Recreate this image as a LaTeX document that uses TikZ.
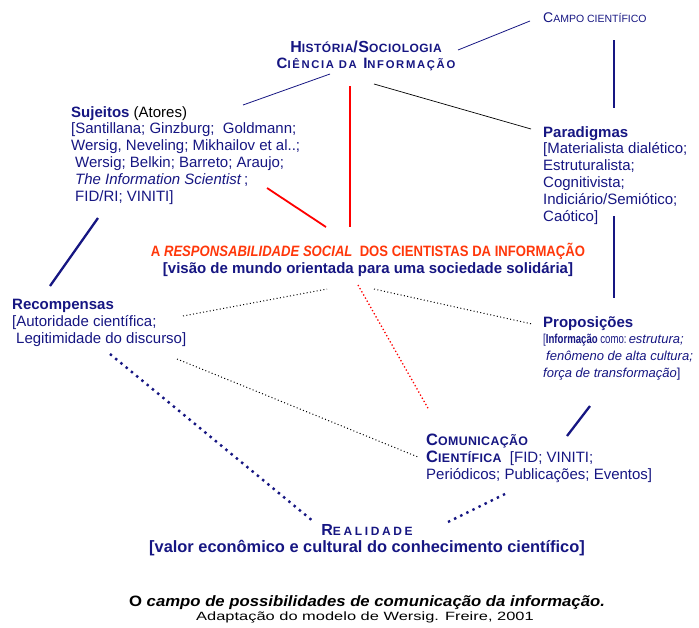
\documentclass[tikz,border=0pt]{standalone}
\usepackage{fontspec}
\setmainfont{Liberation Sans}
\usepackage{graphicx}
\usepackage{xcolor}
\usetikzlibrary{positioning}
\definecolor{navy}{RGB}{22,22,130}
\definecolor{title-red}{RGB}{255,55,10}
\newcommand{\smallcap}[2]{#1\scalebox{0.75}{#2}}
\tikzset{
    title-box/.style = {inner sep=0pt, anchor=base, text=navy, font=\bfseries\fontsize{15}{17}\selectfont},
    concept-box/.style = {inner sep=0pt, anchor=north west, align=left, text=navy, font=\fontsize{15}{16.8}\selectfont},
    thin-link/.style = {draw=navy, line width=0.8pt},
    heavy-link/.style = {draw=navy, line width=2.3pt},
    red-link/.style = {draw=red, line width=1.3pt},
    dot-link/.style = {draw=black, line width=1pt, dash pattern=on 1pt off 2.4pt},
    red-dot-link/.style = {draw=red, line width=1.3pt, dash pattern=on 1.3pt off 2.3pt},
    heavy-dot-link/.style = {draw=navy, line width=2.4pt, dash pattern=on 2.4pt off 4.4pt},
}

\begin{document}
\begin{tikzpicture}[x=1pt, y=-1pt]
\useasboundingbox (0,0) rectangle (699,627);

% top: campo / historia
\node[title-box, anchor=base west, font=\fontsize{14}{16}\selectfont] (campo) at (543,22) {\smallcap{C}{AMPO CIENTÍFICO}};
\node[title-box, font=\bfseries\fontsize{16}{18}\selectfont] (hist) at (366,52) {\addfontfeatures{LetterSpace=4}\smallcap{H}{ISTÓRIA}/\smallcap{S}{OCIOLOGIA}};
\node[title-box] (ciencia) at (366,68) {\addfontfeatures{LetterSpace=15}\smallcap{C}{IÊNCIA DA} \smallcap{I}{NFORMAÇÃO}};

% concept blocks
\node[concept-box] (suj) at (71,106) {\textbf{Sujeitos} {\color{black}(Atores)}\\
{[}Santillana; Ginzburg;\ \ Goldmann;\\
Wersig, Neveling; Mikhailov et al..;\\
\hspace{4pt}Wersig; Belkin; Barreto; Araujo;\\
\hspace{4pt}\textit{The Information Scientist}\,;\\
\hspace{4pt}FID/RI; VINITI]};
\node[concept-box] (para) at (543,126) {\textbf{Paradigmas}\\
{[}Materialista dialético;\\
Estruturalista;\\
Cognitivista;\\
Indiciário/Semiótico;\\
Caótico]};
\node[concept-box] (recomp) at (12,299) {\textbf{Recompensas}\\
{[}Autoridade científica;\\
\hspace{4pt}Legitimidade do discurso]};
\node[concept-box] (prop) at (543,316) {\textbf{Proposições}\\
{\fontsize{13}{17}\selectfont\scalebox{0.74}[1]{[\textbf{Informação} como:}\,\textit{estrutura;}}\\
{\fontsize{13}{17}\selectfont\hspace{3pt}\textit{fenômeno de alta cultura;}}\\
{\fontsize{13}{17}\selectfont\textit{força de transformação}]}};
\node[concept-box] (comun) at (426,434) {\textbf{\fontsize{16.5}{17}\selectfont\addfontfeatures{LetterSpace=3}\smallcap{C}{OMUNICAÇÃO}}\\
\textbf{\fontsize{16.5}{17}\selectfont\addfontfeatures{LetterSpace=3}\smallcap{C}{IENTÍFICA}}\ \ [FID; VINITI;\\
Periódicos; Publicações; Eventos]};

% centre
\node[title-box, text=title-red] (resp) at (368,256) {\scalebox{0.873}[1]{A \textit{RESPONSABILIDADE SOCIAL}\ \ DOS CIENTISTAS DA INFORMAÇÃO}};
\node[title-box] (visao) at (368,273) {[visão de mundo orientada para uma sociedade solidária]};

% bottom
\node[title-box, font=\bfseries\fontsize{16}{18}\selectfont] (real) at (367,535) {\addfontfeatures{LetterSpace=22}\smallcap{R}{EALIDADE}};
\node[title-box, font=\bfseries\fontsize{16.4}{18}\selectfont] (valor) at (367,552) {[valor econômico e cultural do conhecimento científico]};
\node[title-box, text=black] (cap1) at (367,606) {\scalebox{1.115}[1]{O \textit{campo de possibilidades de comunicação da informação.}}};
\node[title-box, text=black, font=\fontsize{12}{14}\selectfont] (cap2) at (365,620) {\scalebox{1.37}[1]{Adaptação do modelo de Wersig. Freire, 2001}};

% connectors
\draw[thin-link] ([shift={(92,-2)}]hist.base) -- ([shift={(-13,-1)}]campo.base west);
\draw[heavy-link] ([shift={(71,18)}]campo.base west) -- ([shift={(71,-18)}]para.north west);
\draw[thin-link] ([shift={(172,-1)}]suj.north west) -- ([shift={(-36,22)}]hist.base);
\draw[red-link] ([shift={(-16,18)}]ciencia.base) -- ([shift={(-18,-29)}]resp.base);
\draw[black, line width=0.7pt] ([shift={(8,16)}]ciencia.base) -- ([shift={(-12,3)}]para.north west);
\draw[red-link, line width=1.8pt] ([shift={(196,82)}]suj.north west) -- ([shift={(-42,-29)}]resp.base);
\draw[heavy-link] ([shift={(27,112)}]suj.north west) -- ([shift={(38,-13)}]recomp.north west);
\draw[heavy-link] ([shift={(71,90)}]para.north west) -- ([shift={(71,-18)}]prop.north west);
\draw[dot-link] ([shift={(171,17)}]recomp.north west) -- ([shift={(-41,16)}]visao.base);
\draw[dot-link] ([shift={(6,16)}]visao.base) -- ([shift={(-11,8)}]prop.north west);
\draw[red-dot-link] ([shift={(-10,12)}]visao.base) -- ([shift={(3,-24)}]comun.north west);
\draw[dot-link] ([shift={(165,60)}]recomp.north west) -- ([shift={(-8,23)}]comun.north west);
\draw[heavy-link] ([shift={(47,90)}]prop.north west) -- ([shift={(141,2)}]comun.north west);
\draw[heavy-dot-link] ([shift={(98,55)}]recomp.north west) -- ([shift={(-53,-13)}]real.base);
\draw[heavy-dot-link] ([shift={(81,-13)}]real.base) -- ([shift={(81,59)}]comun.north west);
\end{tikzpicture}
\end{document}
